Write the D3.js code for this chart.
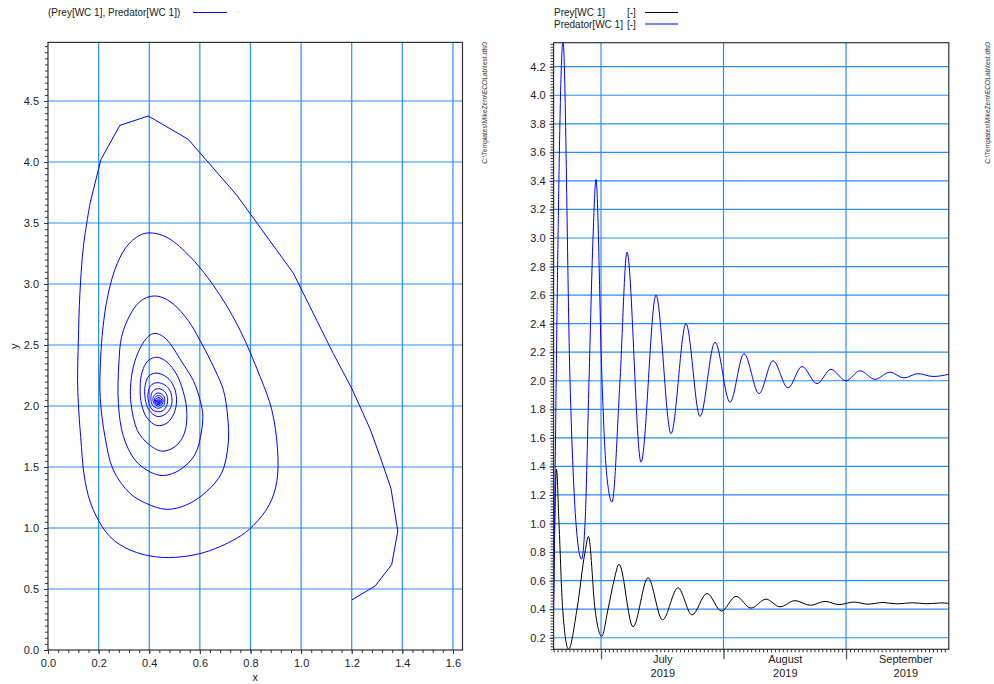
<!DOCTYPE html>
<html><head><meta charset="utf-8">
<script src="https://cdn.jsdelivr.net/npm/d3@7"></script>
<style>body{margin:0;background:#fff}svg{display:block;font-family:"Liberation Sans",Arial,sans-serif}</style>
</head><body><svg id="c" width="994" height="684"></svg>
<script>
// ---------- data ----------
// Phase portrait (Prey on x, Predator on y), in path order
const phasePrey = [1.200,1.293,1.358,1.382,1.355,1.312,1.273,1.200,1.127,0.969,0.745,0.554,0.396,0.284,0.209,0.166,0.140,0.126,0.120,0.117,0.120,0.129,0.146,0.179,0.245,0.324,0.443,0.600,0.745,0.811,0.874,0.904,0.907,0.884,0.838,0.752,0.653,0.554,0.462,0.383,0.320,0.274,0.238,0.216,0.205,0.208,0.225,0.258,0.324,0.390,0.469,0.548,0.627,0.686,0.712,0.710,0.693,0.660,0.600,0.554,0.495,0.443,0.400,
  0.360,0.324,0.291,0.280,0.278,0.298,0.344,0.403,0.456,0.520,0.580,0.607,0.611,0.595,0.574,0.548,0.520,0.490,0.458,0.423,0.396,0.363,0.337,0.326,0.328,0.353,0.396,0.449,0.502,0.539,0.548,0.528,0.505,0.470,0.430,0.395,0.372,0.364,0.370,0.392,0.430,0.470,0.498,0.508,0.497,0.470,0.428,0.398,0.384,0.384,0.398,0.430,0.462,0.485,0.490,0.478,0.455,0.427,0.405,0.395,0.398,0.410,0.432,0.456,0.470,0.472,0.460,0.443,0.422,0.409,0.407,0.414,0.434,0.452,0.461,0.459,0.447,0.430,0.417,0.415,0.423,0.437,0.450,0.455,0.451,0.440,0.427,0.421,0.423,0.435,0.447,0.450,0.444,0.433,0.425,0.427,0.437,0.446,0.445,0.437,0.429,0.430,0.438,0.443,0.440,0.433,0.433,0.440,0.441,0.436,0.437];
const phasePredator = [0.41,0.525,0.70,0.975,1.325,1.585,1.81,2.145,2.43,3.09,3.73,4.186,4.377,4.30,4.02,3.66,3.31,2.92,2.54,2.21,2.02,1.75,1.39,1.148,0.929,0.82,0.76,0.79,0.915,1.02,1.19,1.38,1.64,1.97,2.24,2.65,2.99,3.24,3.39,3.415,3.33,3.17,2.92,2.62,2.21,2.02,1.75,1.475,1.284,1.20,1.153,1.19,1.30,1.45,1.69,1.91,2.13,2.295,2.54,2.70,2.836,2.896,2.896,
  2.85,2.746,2.57,2.35,2.02,1.75,1.557,1.46,1.43,1.475,1.60,1.80,1.94,2.09,2.21,2.30,2.39,2.49,2.565,2.596,2.57,2.47,2.32,2.15,2.02,1.80,1.69,1.63,1.667,1.776,1.97,2.16,2.27,2.36,2.40,2.37,2.28,2.15,2.01,1.90,1.84,1.86,1.94,2.05,2.16,2.235,2.27,2.245,2.17,2.06,1.97,1.915,1.93,1.99,2.06,2.14,2.18,2.19,2.165,2.10,2.03,1.975,1.953,1.965,2.01,2.07,2.12,2.14,2.135,2.10,2.05,2.005,1.982,1.995,2.03,2.075,2.10,2.105,2.08,2.04,2.01,2.00,2.012,2.04,2.07,2.085,2.08,2.055,2.025,2.012,2.02,2.045,2.065,2.068,2.05,2.025,2.018,2.03,2.05,2.058,2.048,2.03,2.024,2.035,2.048,2.045,2.033,2.030,2.040,2.042,2.035];
// the first (fast) part of the trajectory shows its straight output steps
const phaseFastPoints = 16;

// Time series, days since 2019-06-19
const predatorDays = [0,2.38,4.15,5.67,7.06,7.95,8.96,9.97,10.73,12.25,13.26,14.78,16.80,18.57,22.12,25.91,29.71,33.50,37.04,40.84,44.64,48.18,51.98,55.52,59.31,62.85,66.65,70.19,73.99,77.53,81.33,85.12,88.66,92.20,96.00,100];
const predatorValues = [0.40,4.377,2.0,1.0,0.75,1.0,2.0,3.0,3.41,2.0,1.4,1.15,2.0,2.90,1.43,2.60,1.63,2.40,1.75,2.27,1.85,2.19,1.91,2.14,1.95,2.10,1.98,2.08,2.00,2.07,2.01,2.06,2.02,2.05,2.03,2.045];
const preyDays = [0,0.73,1.37,2.30,3.77,5.92,7.95,8.83,10.48,12.17,13.77,15.28,16.55,20.09,23.89,27.56,31.48,35.02,38.82,42.48,46.15,49.95,53.74,57.29,61.08,65.01,68.67,72.22,76.01,79.55,83.35,86.89,90.69,94.48,98.03,100];
const preyValues = [0.46,1.38,1.0,0.4,0.12,0.4,0.8,0.91,0.4,0.21,0.4,0.6,0.715,0.277,0.62,0.325,0.55,0.36,0.51,0.387,0.49,0.408,0.47,0.417,0.46,0.427,0.455,0.432,0.45,0.435,0.447,0.437,0.445,0.438,0.444,0.441];

// Tick values / labels
const xTicksLeft = [0,0.2,0.4,0.6,0.8,1.0,1.2,1.4,1.6];
const yTicksLeft = [0,0.5,1.0,1.5,2.0,2.5,3.0,3.5,4.0,4.5];
const yTicksRight = [0.2,0.4,0.6,0.8,1.0,1.2,1.4,1.6,1.8,2.0,2.2,2.4,2.6,2.8,3.0,3.2,3.4,3.6,3.8,4.0,4.2];
const monthStarts = ["2019-07-01","2019-08-01","2019-09-01"];
const monthEnds = ["2019-08-01","2019-09-01","2019-10-01"];
const timeStart = "2019-06-19", timeEnd = "2019-09-27";
const legendLeft = "(Prey[WC 1], Predator[WC 1])";
const legendRight = ["Prey[WC 1]", "Predator[WC 1]"];
const unitLabel = "[-]";
const filePath = "C:\\Templates\\MikeZero\\ECOLab\\test.dfs0";

// ---------- drawing ----------
const svg = d3.select("#c");
const GRID = "#2a8cff", FRAME = "#333", TXT = "#222";
const parse = d3.timeParse("%Y-%m-%d");

// ===== Left chart =====
const L = {x0: 48, x1: 462.5, y0: 42.4, y1: 650};
const xL = d3.scaleLinear().domain([0, (L.x1 - L.x0) / 253.1]).range([L.x0, L.x1]);
const yL = d3.scaleLinear().domain([0, (L.y1 - L.y0) / 122]).range([L.y1, L.y0]);

const gL = svg.append("g");
gL.selectAll(".vg").data(xTicksLeft.filter(d => d > 0)).join("line")
  .attr("x1", d => xL(d)).attr("x2", d => xL(d)).attr("y1", L.y0).attr("y2", L.y1)
  .attr("stroke", GRID).attr("stroke-width", 1.2);
gL.selectAll(".hg").data(yTicksLeft.filter(d => d > 0)).join("line")
  .attr("y1", d => yL(d)).attr("y2", d => yL(d)).attr("x1", L.x0).attr("x2", L.x1)
  .attr("stroke", GRID).attr("stroke-width", 1.2);

// phase line
const phasePts = phasePrey.map((p, i) => [p, phasePredator[i]]);
gL.append("path").datum(phasePts.slice(0, phaseFastPoints))
  .attr("fill", "none").attr("stroke", "#0000ff").attr("stroke-width", 1)
  .attr("d", d3.line().x(d => xL(d[0])).y(d => yL(d[1])));
gL.append("path").datum(phasePts.slice(phaseFastPoints - 1))
  .attr("fill", "none").attr("stroke", "#0000ff").attr("stroke-width", 1)
  .attr("d", d3.line().x(d => xL(d[0])).y(d => yL(d[1])).curve(d3.curveCatmullRom.alpha(0.5)));

// axes
function styleAxis(g) {
  g.select(".domain").remove();
  g.selectAll("line").attr("stroke", FRAME);
  g.selectAll("text").attr("fill", TXT).attr("font-family", "Liberation Sans, Arial, sans-serif");
}
const minorXL = d3.range(0, 42).map(i => i * 0.04).filter(v => xL(v) <= L.x1);
const minorYL = d3.range(0, 100).map(i => i * 0.05).filter(v => yL(v) >= L.y0);
svg.append("g").attr("transform", `translate(0,${L.y1})`)
  .call(d3.axisBottom(xL).tickValues(minorXL).tickSize(3).tickFormat("")).call(styleAxis);
svg.append("g").attr("transform", `translate(${L.x0},0)`)
  .call(d3.axisLeft(yL).tickValues(minorYL).tickSize(3).tickFormat("")).call(styleAxis);
svg.append("g").attr("transform", `translate(0,${L.y1})`)
  .call(d3.axisBottom(xL).tickValues(xTicksLeft).tickSize(4).tickPadding(5).tickFormat(d3.format(".1f")))
  .call(styleAxis).selectAll("text").attr("font-size", 11);
svg.append("g").attr("transform", `translate(${L.x0},0)`)
  .call(d3.axisLeft(yL).tickValues(yTicksLeft).tickSize(4).tickPadding(5).tickFormat(d3.format(".1f")))
  .call(styleAxis).selectAll("text").attr("font-size", 11);
svg.append("rect").attr("x", L.x0).attr("y", L.y0).attr("width", L.x1 - L.x0).attr("height", L.y1 - L.y0)
  .attr("fill", "none").attr("stroke", FRAME).attr("stroke-width", 1.2);
svg.append("text").attr("x", (L.x0 + L.x1) / 2).attr("y", 681).attr("text-anchor", "middle")
  .attr("font-size", 11).attr("fill", TXT).text("x");
svg.append("text").attr("transform", `translate(18,${(L.y0 + L.y1) / 2}) rotate(-90)`).attr("text-anchor", "middle")
  .attr("font-size", 11).attr("fill", TXT).text("y");

// legend left
svg.append("text").attr("x", 48).attr("y", 16).attr("font-size", 10).attr("fill", TXT).text(legendLeft);
svg.append("line").attr("x1", 193).attr("x2", 227).attr("y1", 12.5).attr("y2", 12.5).attr("stroke", "#0000ff");

// ===== Right chart =====
const R = {x0: 553.6, x1: 948.8, y0: 42.7, y1: 649.3};
const t0 = parse(timeStart), t1 = parse(timeEnd);
const xR = d3.scaleTime().domain([t0, t1]).range([R.x0, R.x1]);
const yR = d3.scaleLinear().domain([0.119, 4.368]).range([R.y1, R.y0]);
const dayDate = d => new Date(t0.getTime() + d * 864e5);

const gR = svg.append("g");
gR.selectAll(".vg").data(monthStarts.map(parse)).join("line")
  .attr("x1", d => xR(d)).attr("x2", d => xR(d)).attr("y1", R.y0).attr("y2", R.y1)
  .attr("stroke", GRID).attr("stroke-width", 1.2);
gR.selectAll(".hg").data(yTicksRight).join("line")
  .attr("y1", d => yR(d)).attr("y2", d => yR(d)).attr("x1", R.x0).attr("x2", R.x1)
  .attr("stroke", GRID).attr("stroke-width", 1.2);

svg.append("clipPath").attr("id", "clipR").append("rect")
  .attr("x", R.x0).attr("y", R.y0).attr("width", R.x1 - R.x0).attr("height", R.y1 - R.y0);
const lineR = d3.line().x(d => xR(dayDate(d[0]))).y(d => yR(d[1])).curve(d3.curveMonotoneX);
gR.append("path").datum(preyDays.map((d, i) => [d, preyValues[i]]))
  .attr("clip-path", "url(#clipR)").attr("fill", "none").attr("stroke", "#000").attr("stroke-width", 1).attr("d", lineR);
gR.append("path").datum(predatorDays.map((d, i) => [d, predatorValues[i]]))
  .attr("clip-path", "url(#clipR)").attr("fill", "none").attr("stroke", "#0000ff").attr("stroke-width", 1).attr("d", lineR);

const minorYR = d3.range(6, 219).map(i => i * 0.02);
svg.append("g").attr("transform", `translate(${R.x0},0)`)
  .call(d3.axisLeft(yR).tickValues(minorYR).tickSize(3).tickFormat("")).call(styleAxis);
svg.append("g").attr("transform", `translate(${R.x0},0)`)
  .call(d3.axisLeft(yR).tickValues(yTicksRight).tickSize(4).tickPadding(4).tickFormat(d3.format(".1f")))
  .call(styleAxis).selectAll("text").attr("font-size", 11);
svg.append("g").attr("transform", `translate(0,${R.y1})`)
  .call(d3.axisBottom(xR).tickValues(d3.timeDay.range(t0, t1)).tickSize(3).tickFormat("")).call(styleAxis);
svg.append("g").attr("transform", `translate(0,${R.y1})`)
  .call(d3.axisBottom(xR).tickValues(monthStarts.map(parse)).tickSize(10).tickFormat("")).call(styleAxis)
  .selectAll("line").attr("stroke", "#555").attr("stroke-width", 1.3);
const mids = monthStarts.map((s, i) => new Date((parse(s).getTime() + parse(monthEnds[i]).getTime()) / 2));
const xLab = svg.append("g").attr("transform", `translate(0,${R.y1})`)
  .call(d3.axisBottom(xR).tickValues(mids).tickSize(0).tickPadding(6).tickFormat(d3.timeFormat("%B|%Y")))
  .call(styleAxis);
xLab.selectAll("text").attr("font-size", 11).each(function() {
  const parts = d3.select(this).text().split("|");
  const t = d3.select(this).text(null);
  t.append("tspan").attr("x", 0).attr("dy", "0.71em").text(parts[0]);
  t.append("tspan").attr("x", 0).attr("dy", "1.25em").text(parts[1]);
}).attr("dy", null);
svg.append("rect").attr("x", R.x0).attr("y", R.y0).attr("width", R.x1 - R.x0).attr("height", R.y1 - R.y0)
  .attr("fill", "none").attr("stroke", FRAME).attr("stroke-width", 1.2);

// legend right
svg.append("text").attr("x", 554).attr("y", 16).attr("font-size", 10).attr("fill", TXT).text(legendRight[0]);
svg.append("text").attr("x", 554).attr("y", 27.5).attr("font-size", 10).attr("fill", TXT).text(legendRight[1]);
svg.append("text").attr("x", 627).attr("y", 16).attr("font-size", 10).attr("fill", TXT).text(unitLabel);
svg.append("text").attr("x", 627).attr("y", 27.5).attr("font-size", 10).attr("fill", TXT).text(unitLabel);
svg.append("line").attr("x1", 645).attr("x2", 678).attr("y1", 12.5).attr("y2", 12.5).attr("stroke", "#000");
svg.append("line").attr("x1", 645).attr("x2", 678).attr("y1", 24).attr("y2", 24).attr("stroke", "#0000ff");

// file path side labels
[487, 990].forEach(x => {
  svg.append("text").attr("transform", `translate(${x},42) rotate(-90)`).attr("text-anchor", "end")
    .attr("font-size", 6.6).attr("fill", "#333").text(filePath);
});
</script></body></html>
